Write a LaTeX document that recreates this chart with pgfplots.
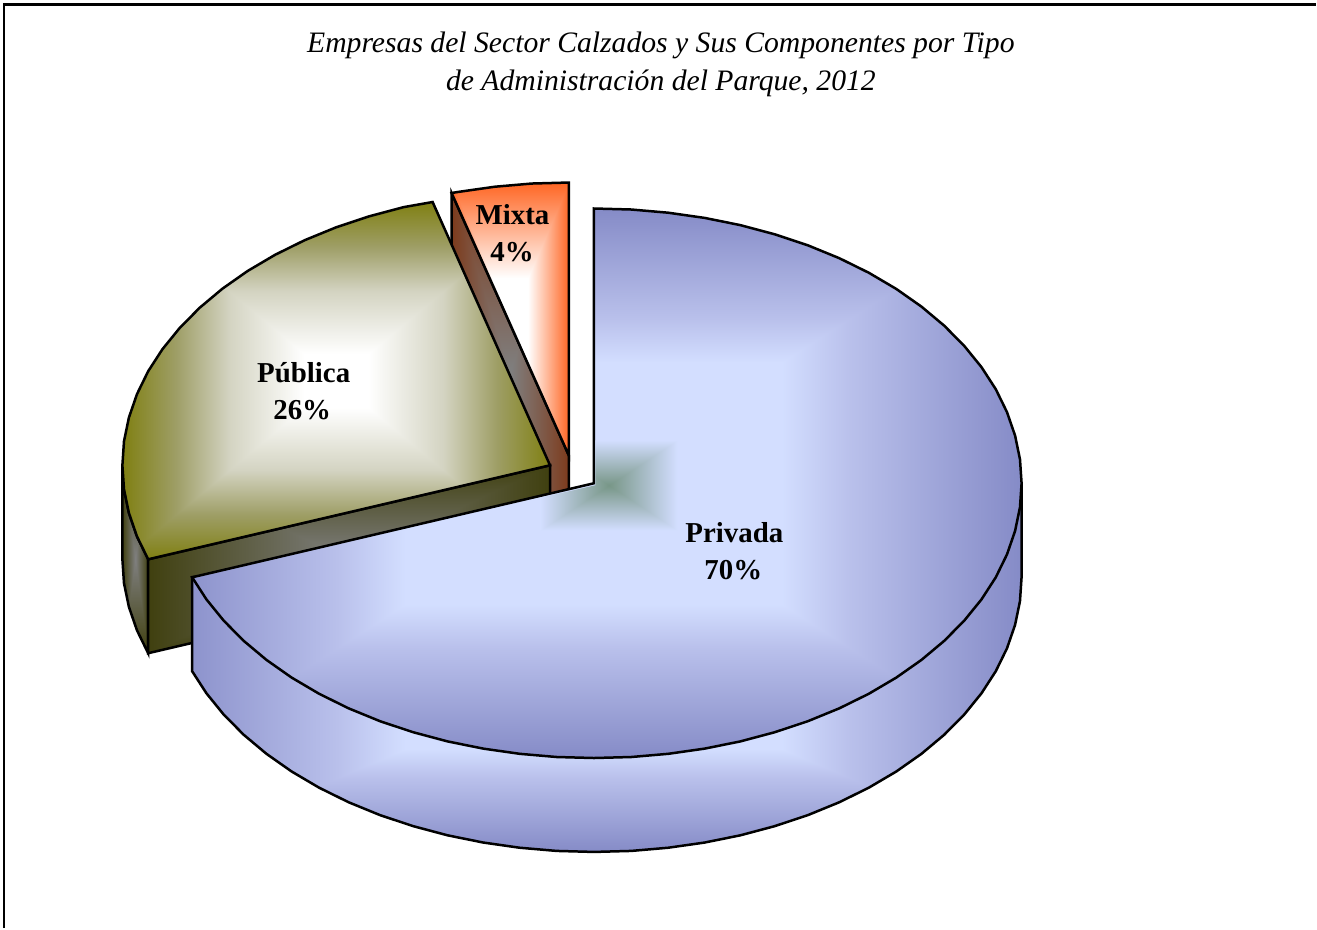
\documentclass[border=0pt]{standalone}
\usepackage{fontspec}
\setmainfont{Liberation Serif}
\usepackage{pgfplots}
\pgfplotsset{compat=1.18}

% box gradients: t = 0 in the middle of the path's box, t = 1 on its edge
% (pgf fits the inner 50bp of the 100bp shading to the path)
\def\maxt{2 copy gt {pop} {exch pop} ifelse}
\def\boxt{50 sub abs exch 50 sub abs \maxt\space 25 div}
% Privada: the box of the whole ellipse, which reaches further left than the slice
\def\boxtpriv{50 sub abs 25 div exch 49.2 sub abs 25.78 div \maxt}
% s on the stack gives r g b = start + s * delta
\def\lerp#1#2#3#4#5#6{dup #4 mul #1 add exch dup #5 mul #2 add exch #6 mul #3 add}
\def\colprivada{dup 0.44 lt {pop 0.827 0.871 1} {dup 0.6 lt {0.44 sub 0.16 div \lerp{0.827}{0.871}{1}{-0.102}{-0.118}{-0.078}} {0.6 sub 0.4 div \lerp{0.725}{0.753}{0.922}{-0.203}{-0.208}{-0.142}} ifelse} ifelse}
\pgfdeclarefunctionalshading{boxprivada}{\pgfpointorigin}{\pgfpoint{100bp}{100bp}}{}{\boxtpriv\space\colprivada}
\pgfdeclarefunctionalshading{boxcentro}{\pgfpointorigin}{\pgfpoint{100bp}{100bp}}{}{\boxt\space
  \lerp{0.47}{0.59}{0.53}{0.357}{0.281}{0.47}}
\pgfdeclarefunctionalshading{boxpublica}{\pgfpointorigin}{\pgfpoint{100bp}{100bp}}{}{\boxt\space
  dup 0.15 lt {pop 1 1 1}
  {dup 0.5 lt {0.15 sub 0.35 div \lerp{1}{1}{1}{-0.17}{-0.17}{-0.24}}
  {dup 0.75 lt {0.5 sub 4 mul \lerp{0.83}{0.83}{0.76}{-0.21}{-0.21}{-0.36}}
  {0.75 sub 4 mul \lerp{0.62}{0.62}{0.40}{-0.12}{-0.12}{-0.33}} ifelse} ifelse} ifelse}
\pgfdeclarefunctionalshading{boxmixta}{\pgfpointorigin}{\pgfpoint{100bp}{100bp}}{}{\boxt\space
  dup 0.3 lt {pop 1 1 1} {0.3 sub 0.7 div \lerp{1}{1}{1}{0}{-0.6}{-0.86}} ifelse}
\pgfdeclarefunctionalshading{boxparedolivo}{\pgfpointorigin}{\pgfpoint{100bp}{100bp}}{}{\boxt\space
  \lerp{0.5}{0.5}{0.5}{-0.25}{-0.25}{-0.44}}
\pgfdeclarefunctionalshading{boxparedmixta}{\pgfpointorigin}{\pgfpoint{100bp}{100bp}}{}{\boxt\space
  \lerp{0.5}{0.5}{0.5}{-0.01}{-0.27}{-0.39}}

\begin{document}
\begin{tikzpicture}
\begin{axis}[
    scale only axis,
    width=1317bp,
    height=929bp,
    xmin=-1, xmax=1316,
    ymin=-0.7, ymax=928.3,
    y dir=reverse,
    axis lines=none,
    clip=false,
    title={Empresas del Sector Calzados y Sus Componentes por Tipo\\de Administración del Parque, 2012},
    title style={at={(axis cs:660.5,70)}, anchor=center, align=center, inner sep=0pt, font=\fontsize{29.8}{38.2}\selectfont\itshape},
    every axis plot/.append style={line width=2.5bp, draw=black, mark=none},
]
% keeps the page as large as the axis
\path (axis cs:-1,-0.7) rectangle (axis cs:1316,928.3);
% frame, only left and top
\addplot[line width=2.4bp] coordinates {(3,928.3) (3,3.8) (1316,3.8)};

% Mixta 4%
\addplot[shading=boxparedmixta] coordinates {(451,192.5) (568.5,455.5) (568.5,550) (451,286.5)} -- cycle;
\addplot[shading=boxmixta] coordinates {(568.5,455.5) (568.5,182) (531.2,183) (494.2,186.2) (457.7,191.4) (451,192.5)} -- cycle;

% Publica 26%
\addplot[shading=boxparedolivo] coordinates {(121.5,465) (123.1,489) (128,512.7) (136.1,536.2) (147.3,559.1) (147.3,653.1) (136.1,630.2) (128,606.7) (123.1,583) (121.5,559)} -- cycle;
\addplot[shading=boxparedolivo] coordinates {(147.3,559.1) (549.5,465) (549.5,559) (147.3,653.1)} -- cycle;
\addplot[shading=boxpublica] coordinates {
  (549.5,465) (147.3,559.1) (136.1,536.2) (128,512.7) (123.1,489) (121.5,465)
  (123.1,441) (128,417.3) (136.1,393.8) (147.3,370.9) (161.6,348.8) (178.9,327.5)
  (198.9,307.3) (221.7,288.2) (246.9,270.5) (274.4,254.3) (304,239.7) (335.5,226.8)
  (368.6,215.8) (403.1,206.6) (432,201.5)} -- cycle;

% Privada 70%
\addplot[shading=boxprivada] coordinates {
  (1021.5,483) (1021.5,577) (1019.9,601) (1015,624.7) (1006.9,648.2) (995.7,671.1)
  (981.4,693.2) (964.1,714.5) (944.1,734.7) (921.3,753.8) (896.1,771.5) (868.6,787.7)
  (839,802.3) (807.5,815.2) (774.4,826.2) (739.9,835.4) (704.3,842.6) (667.8,847.8)
  (630.8,851) (593.5,852) (556.2,851) (519.2,847.8) (482.7,842.6) (447.1,835.4)
  (412.6,826.2) (379.5,815.2) (348,802.3) (318.4,787.7) (290.9,771.5) (265.7,753.8)
  (242.9,734.7) (222.9,714.5) (205.6,693.2) (191.3,671.1) (191.3,577)} -- cycle;
\addplot[shading=boxprivada] coordinates {
  (593.5,483) (593.5,208) (630.8,209) (667.8,212.2) (704.3,217.4) (739.9,224.6)
  (774.4,233.8) (807.5,244.8) (839,257.7) (868.6,272.3) (896.1,288.5) (921.3,306.2)
  (944.1,325.3) (964.1,345.5) (981.4,366.8) (995.7,388.9) (1006.9,411.8) (1015,435.3)
  (1019.9,459) (1021.5,483) (1019.9,507) (1015,530.7) (1006.9,554.2) (995.7,577.1)
  (981.4,599.2) (964.1,620.5) (944.1,640.7) (921.3,659.8) (896.1,677.5) (868.6,693.7)
  (839,708.3) (807.5,721.2) (774.4,732.2) (739.9,741.4) (704.3,748.6) (667.8,753.8)
  (630.8,757) (593.5,758) (556.2,757) (519.2,753.8) (482.7,748.6) (447.1,741.4)
  (412.6,732.2) (379.5,721.2) (348,708.3) (318.4,693.7) (290.9,677.5) (265.7,659.8)
  (242.9,640.7) (222.9,620.5) (205.6,599.2) (191.3,577.1)} -- cycle;
% greenish box round the apex of the pie
\addplot[draw=none, shading=boxcentro] coordinates {(595,440) (677,440) (677,530) (540,530) (540,497.5) (595,485)} -- cycle;

\node[font=\fontsize{29}{32}\selectfont\bfseries] at (axis cs:512,214) {Mixta};
\node[font=\fontsize{29}{32}\selectfont\bfseries] at (axis cs:511.5,252) {4\%};
\node[font=\fontsize{29}{32}\selectfont\bfseries] at (axis cs:303,372) {Pública};
\node[font=\fontsize{29}{32}\selectfont\bfseries] at (axis cs:301.5,410) {26\%};
\node[font=\fontsize{29}{32}\selectfont\bfseries] at (axis cs:734,532) {Privada};
\node[font=\fontsize{29}{32}\selectfont\bfseries] at (axis cs:733,570) {70\%};
\end{axis}
\end{tikzpicture}
\end{document}
